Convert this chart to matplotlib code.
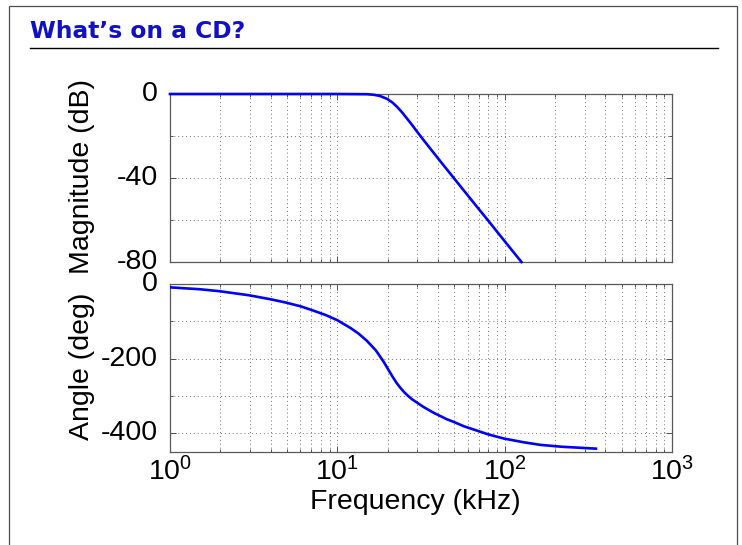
import matplotlib
matplotlib.use("Agg")
import matplotlib.pyplot as plt
import matplotlib.transforms as mtransforms
from matplotlib.ticker import FixedLocator, NullFormatter, LogLocator
from matplotlib.patches import Rectangle
from matplotlib.lines import Line2D

plt.rcParams['font.family'] = ['Liberation Sans', 'DejaVu Sans']
plt.rcParams['mathtext.fontset'] = 'custom'
plt.rcParams['mathtext.rm'] = 'Liberation Sans'
plt.rcParams['mathtext.it'] = 'Liberation Sans'
plt.rcParams['mathtext.bf'] = 'Liberation Sans'
plt.rcParams['axes.unicode_minus'] = False

# magnitude response, kHz / dB
mag_freq = [1.0, 5.0, 10.0, 15.0, 16.5, 18.0, 19.8, 21.3, 22.8, 24.4, 26.1,
            28.0, 30.0, 32.0, 35.2, 42.0, 52.0, 65.0, 78.8, 100.0, 126.0]
mag_db = [0.0, 0.0, 0.0, -0.1, -0.35, -0.95, -2.3, -4.0, -6.2, -8.8, -11.7,
          -14.8, -18.0, -20.9, -25.1, -32.8, -42.0, -51.6, -59.8, -70.1, -80.0]

# phase response, kHz / deg
ph_freq = [1.0, 1.5, 1.95, 2.95, 4.0, 4.9, 6.0, 7.06, 8.5, 10.0, 12.0, 13.4,
           15.0, 17.0, 18.9, 19.9, 21.5, 22.6, 23.8, 25.0, 26.5, 28.0, 30.0,
           32.5, 35.0, 38.0, 41.4, 45.0, 50.0, 57.0, 65.5, 80.0, 99.0, 130.0,
           164.0, 220.0, 351.0]
ph_deg = [-9, -14, -19, -30, -41, -49.5, -59.5, -70, -83, -97, -118, -133,
          -152, -178, -208, -225, -250, -265, -278, -289, -300, -309, -318,
          -328.5, -337, -346, -354, -362, -370, -381, -390, -403, -414, -424,
          -431, -436, -441]

xticks = [1, 10, 100, 1000]
xticklabels = [r'$10^{0}$', r'$10^{1}$', r'$10^{2}$', r'$10^{3}$']

W, H = 742, 545
fig = plt.figure(figsize=(W / 100, H / 100), dpi=100)

def box(l, t, r, b):
    return [l / W, 1 - b / H, (r - l) / W, (b - t) / H]

ax1 = fig.add_axes(box(170, 94, 672, 262))
ax2 = fig.add_axes(box(170, 284, 672, 452))

blue = '#0000ff'
ax1.plot(mag_freq, mag_db, color=blue, lw=1.9, clip_on=False, zorder=5)
ax2.plot(ph_freq, ph_deg, color=blue, lw=1.9, zorder=5)

fs = 20.5
for ax in (ax1, ax2):
    ax.set_xscale('log')
    ax.set_xlim(1, 1000)
    ax.set_xticks(xticks)
    ax.xaxis.set_minor_locator(LogLocator(base=10, subs=range(2, 10)))
    ax.xaxis.set_minor_formatter(NullFormatter())
    ax.grid(which='both', linestyle=(0, (1, 3)), color='0.45', linewidth=0.7)
    ax.tick_params(which='both', direction='in', top=True, right=True,
                   labelsize=fs, color='0.3', width=0.7)
    ax.tick_params(which='major', length=4, pad=9)
    ax.tick_params(which='minor', length=2.5)
    for sp in ax.spines.values():
        sp.set_color('0.35')
        sp.set_linewidth(0.9)

ax1.set_ylim(-80, 0)
ax1.set_yticks([-80, -40, 0])
ax1.yaxis.set_minor_locator(FixedLocator([-60, -20]))
ax1.set_xticklabels([])

ax2.set_ylim(-450, 0)
ax2.set_yticks([-400, -200, 0])
ax2.yaxis.set_minor_locator(FixedLocator([-300, -100]))
ax2.set_xticklabels(xticklabels)
ax2.tick_params(axis='x', which='major', pad=4)

# y tick labels sit a little above their ticks in the original
up = mtransforms.ScaledTranslation(0, 3 / 100, fig.dpi_scale_trans)
for ax in (ax1, ax2):
    for lbl in ax.get_yticklabels():
        lbl.set_transform(lbl.get_transform() + up)

fig.text(82 / W, 1 - 177 / H, 'Magnitude (dB)', rotation=90,
         ha='center', va='center', fontsize=fs)
fig.text(82 / W, 1 - 366 / H, 'Angle (deg)', rotation=90,
         ha='center', va='center', fontsize=fs)
fig.text(415 / W, 1 - 502 / H, 'Frequency (kHz)', ha='center', va='center',
         fontsize=fs)

# slide frame and title
fig.add_artist(Rectangle((9 / W, -0.05), (737 - 9) / W, 1.05 - 6 / H,
                         transform=fig.transFigure, fill=False,
                         edgecolor='0.3', linewidth=0.9))
fig.text(30 / W, 1 - 32 / H, "What\u2019s on a CD?", ha='left', va='center',
         fontsize=16.8, fontweight='bold', color='#1010c8',
         family='DejaVu Sans')
fig.add_artist(Line2D([30 / W, 718 / W], [1 - 48 / H, 1 - 48 / H],
                      transform=fig.transFigure, color='black', lw=1.0))

fig.savefig('out.png', dpi=100)
